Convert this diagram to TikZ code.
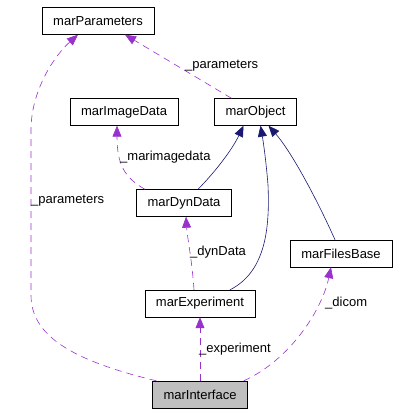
\documentclass[tikz,border=0pt]{standalone}
\usepackage{fontspec}
\setmainfont{Liberation Sans}
\usetikzlibrary{arrows.meta}
\definecolor{usecol}{RGB}{153,50,204}
\definecolor{inhcol}{RGB}{25,25,112}

\begin{document}
\begin{tikzpicture}[x=1pt,y=-1pt,
    classbox/.style={draw,rectangle,minimum height=27pt,inner xsep=11pt,inner ysep=0pt,
      font=\fontsize{13}{15}\selectfont},
    useedge/.style={draw=usecol,line width=0.6pt,dash pattern=on 7pt off 5pt,
      -{Triangle[length=11pt,width=9pt]}},
    inhedge/.style={draw=inhcol,line width=0.6pt,-{Triangle[length=11pt,width=9pt]}},
    edgelabel/.style={anchor=west,inner sep=0pt,font=\fontsize{13}{15}\selectfont}]
  \useasboundingbox (0,0) rectangle (400,415);
  \newcommand\drawclass[4]{\node[classbox,#4] (#1) at (#2) {#3};}

% classes
  \drawclass{par}{98,21}{marParameters}{}
  \drawclass{img}{124,112}{marImageData}{}
  \drawclass{obj}{255.5,112}{marObject}{}
  \drawclass{dyn}{184,203}{marDynData}{}
  \drawclass{fil}{341,253.5}{marFilesBase}{}
  \drawclass{exp}{200,303.5}{marExperiment}{}
  \drawclass{itf}{200,394.5}{marInterface}{fill=black!25}

% inheritance part
  \draw[inhedge] ([xshift=14pt]dyn.north) .. controls (215,172) and (232,150) .. ([xshift=-12pt]obj.south);
  \draw[inhedge] ([xshift=30pt]exp.north) .. controls (265,272) and (270,230) .. (268,185)
    .. controls (266,160) and (263,140) .. ([xshift=5pt]obj.south);
  \draw[inhedge] ([xshift=-6pt]fil.north) .. controls (315,195) and (290,150) .. ([xshift=13pt]obj.south);

% usage part
  \draw[useedge] ([xshift=4pt]itf.north west) .. controls (70,360) and (31,335) .. (31,295)
    -- (31,130) .. controls (31,90) and (55,55) .. ([xshift=-20pt]par.south);
  \draw (31,201) node[edgelabel] {\_parameters};
  \draw[useedge] ([xshift=-24pt]obj.north) -- ([xshift=27pt]par.south);
  \draw (185,66) node[edgelabel] {\_parameters};
  \draw[useedge] ([xshift=-39pt]dyn.north) .. controls (125,178) and (117,165) .. ([xshift=-7pt]img.south);
  \draw (120,157) node[edgelabel] {\_marimagedata};
  \draw[useedge] ([xshift=-6pt]exp.north) .. controls (192,260) and (187,235) .. ([xshift=2pt]dyn.south);
  \draw (190,252) node[edgelabel] {\_dynData};
  \draw[useedge] (itf.north) -- (exp.south);
  \draw (199,349) node[edgelabel] {\_experiment};
  \draw[useedge] ([xshift=-4pt]itf.north east) .. controls (290,360) and (322,310) .. ([xshift=-10pt]fil.south);
  \draw (325,303) node[edgelabel] {\_dicom};

\end{tikzpicture}
\end{document}
